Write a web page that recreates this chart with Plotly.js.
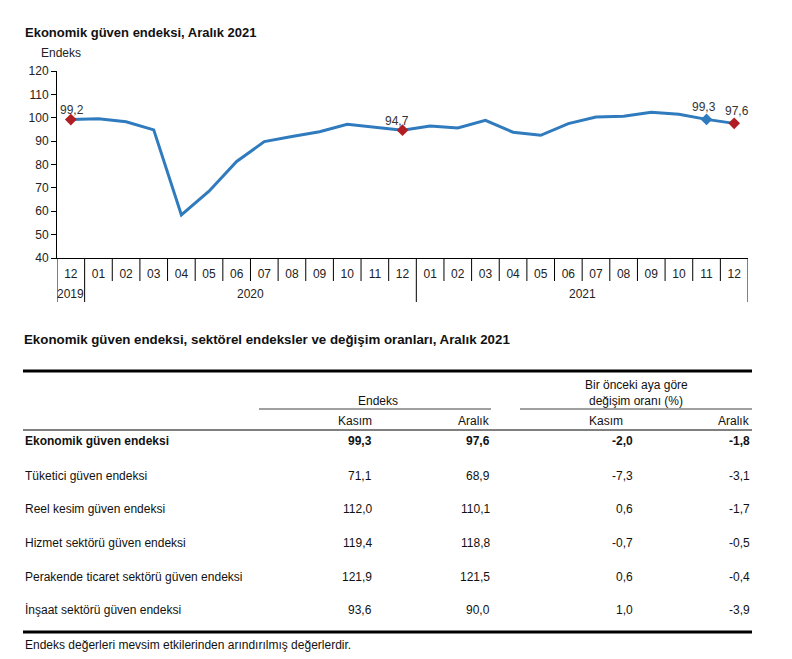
<!DOCTYPE html>
<html>
<head>
<meta charset="utf-8">
<script src="https://cdn.plot.ly/plotly-3.0.1.min.js"></script>
<style>html,body{margin:0;padding:0;background:#fff;}#chart{width:792px;height:659px;}</style>
</head>
<body>
<div id="chart"></div>
<script>
// ---- Chart data ----
const months = ['12','01','02','03','04','05','06','07','08','09','10','11','12','01','02','03','04','05','06','07','08','09','10','11','12'];
const years = ['2019','2020','2021'];
const yearStartIdx = [0, 1, 13];
const confidence = [99.2, 99.6, 98.3, 94.8, 58.4, 68.6, 81.3, 89.8, 92.0, 94.0, 97.2, 96.0, 94.7,
                    96.5, 95.6, 98.9, 93.8, 92.5, 97.5, 100.3, 100.6, 102.3, 101.5, 99.3, 97.6];
const redIdx = [0, 12, 24];
const blueIdx = [23];

// ---- Table data ----
const tableTitle = 'Ekonomik güven endeksi, sektörel endeksler ve değişim oranları, Aralık 2021';
const rowLabels = ['Ekonomik güven endeksi','Tüketici güven endeksi','Reel kesim güven endeksi','Hizmet sektörü güven endeksi','Perakende ticaret sektörü güven endeksi','İnşaat sektörü güven endeksi'];
const endeksKasim = [99.3, 71.1, 112.0, 119.4, 121.9, 93.6];
const endeksAralik = [97.6, 68.9, 110.1, 118.8, 121.5, 90.0];
const degisimKasim = [-2.0, -7.3, 0.6, -0.7, 0.6, 1.0];
const degisimAralik = [-1.8, -3.1, -1.7, -0.5, -0.4, -3.9];
const footnote = 'Endeks değerleri mevsim etkilerinden arındırılmış değerlerdir.';

const fmt = v => v.toFixed(1).replace('.', ',');
const FONT = 'Liberation Sans, Arial, sans-serif';
const LINE = '#2F7BBE';
const RED = '#B01E23';

// pixel -> paper helpers (plot area: x 57..748, y 71..258)
const PL = 57, PR = 748, PT = 71, PB = 258;
const px = p => (p - PL) / (PR - PL);
const py = p => (PB - p) / (PB - PT);

const idx = months.map((_, i) => i);

const traces = [
  { x: idx, y: confidence, type: 'scatter', mode: 'lines',
    line: { color: LINE, width: 3 }, hoverinfo: 'skip', showlegend: false },
  { x: blueIdx, y: blueIdx.map(i => confidence[i]), type: 'scatter', mode: 'markers',
    marker: { symbol: 'diamond', size: 9, color: LINE }, showlegend: false, hoverinfo: 'skip' },
  { x: redIdx, y: redIdx.map(i => confidence[i]), type: 'scatter', mode: 'markers',
    marker: { symbol: 'diamond', size: 9, color: RED }, showlegend: false, hoverinfo: 'skip' }
];

const shapes = [];
const annotations = [];

// value labels on highlighted points
redIdx.concat(blueIdx).forEach(i => {
  const last = i >= months.length - 2;
  annotations.push({ xref: 'x', yref: 'y', x: i, y: confidence[i], text: fmt(confidence[i]),
    showarrow: false, xanchor: 'center', yanchor: 'middle', yshift: last ? 12 : 9.5,
    xshift: i === 12 ? -6 : (i === 23 ? -3 : (i === 24 ? 3 : 1)),
    font: { family: FONT, size: 12, color: '#333' } });
});

// category separators under the x axis
const yearBounds = yearStartIdx.concat([months.length]);
for (let i = 0; i <= months.length; i++) {
  const long = yearBounds.includes(i);
  shapes.push({ type: 'line', xref: 'x', yref: 'paper', x0: i - 0.5, x1: i - 0.5,
    y0: 0, y1: py(long ? 302 : 281), line: { color: '#000', width: 1 } });
}
// year labels
years.forEach((yr, k) => {
  const a = yearBounds[k], b = yearBounds[k + 1] - 1;
  annotations.push({ xref: 'x', yref: 'paper', x: (a + b) / 2, y: py(294), text: yr,
    showarrow: false, xanchor: 'center', yanchor: 'middle', font: { family: FONT, size: 12, color: '#222' } });
});

// chart title & axis title
annotations.push({ xref: 'paper', yref: 'paper', x: px(23), y: py(32), text: '<b>Ekonomik güven endeksi, Aralık 2021</b>',
  showarrow: false, xanchor: 'left', yanchor: 'middle', font: { family: FONT, size: 13, color: '#111' } });
annotations.push({ xref: 'paper', yref: 'paper', x: px(39), y: py(53), text: 'Endeks',
  showarrow: false, xanchor: 'left', yanchor: 'middle', font: { family: FONT, size: 12, color: '#222' } });

// ---- Table ----
const T = { family: FONT, size: 12, color: '#111' };
const addText = (x, y, text, xanchor, font) => annotations.push({ xref: 'paper', yref: 'paper', x: px(x), y: py(y),
  text, showarrow: false, xanchor, yanchor: 'middle', font: font || T, borderpad: 0 });
const addLine = (x0, x1, y, color, width) => shapes.push({ type: 'line', xref: 'paper', yref: 'paper',
  x0: px(x0), x1: px(x1), y0: py(y), y1: py(y), line: { color, width } });

addText(23, 339, '<b>' + tableTitle + '</b>', 'left', { family: FONT, size: 13.3, color: '#111' });
addLine(23, 752, 371, '#000', 3);
addText(378, 401, 'Endeks', 'center');
addLine(259, 491, 409, '#808080', 1.5);
addText(636, 385, 'Bir önceki aya göre', 'center');
addText(636, 401, 'değişim oranı (%)', 'center');
addLine(520, 752, 409, '#808080', 1.5);
addText(373, 421, 'Kasım', 'right');
addText(491, 421, 'Aralık', 'right');
addText(606, 421, 'Kasım', 'center');
addText(751, 421, 'Aralık', 'right');
addLine(23, 752, 430, '#000', 1);

const rowY = [441, 476, 509, 543, 577, 610];
rowLabels.forEach((lab, r) => {
  const b = r === 0;
  const w = s => b ? '<b>' + s + '</b>' : s;
  addText(24, rowY[r], w(lab), 'left');
  addText(373, rowY[r], w(fmt(endeksKasim[r])), 'right');
  addText(491, rowY[r], w(fmt(endeksAralik[r])), 'right');
  addText(634, rowY[r], w(fmt(degisimKasim[r])), 'right');
  addText(751, rowY[r], w(fmt(degisimAralik[r])), 'right');
});
addLine(23, 752, 632, '#000', 3);
addText(24, 645, footnote, 'left');

const layout = {
  width: 792, height: 659,
  margin: { l: PL, r: 792 - PR, t: PT, b: 659 - PB, pad: 0 },
  paper_bgcolor: '#fff', plot_bgcolor: '#fff',
  font: { family: FONT, size: 12, color: '#222' },
  showlegend: false,
  xaxis: { range: [-0.5, months.length - 0.5], tickmode: 'array', tickvals: idx, ticktext: months,
    ticks: 'outside', ticklen: 5, tickcolor: 'rgba(0,0,0,0)', showline: true, linecolor: '#000', linewidth: 1,
    showgrid: false, zeroline: false, tickfont: { family: FONT, size: 12, color: '#222' }, fixedrange: true },
  yaxis: { range: [40, 120], tick0: 40, dtick: 10, ticks: 'outside', ticklen: 5, tickcolor: '#000',
    showline: true, linecolor: '#000', linewidth: 1, showgrid: false, zeroline: false,
    tickfont: { family: FONT, size: 12, color: '#222' }, fixedrange: true },
  shapes, annotations
};

Plotly.newPlot('chart', traces, layout, { displayModeBar: false, staticPlot: true });
</script>
</body>
</html>
